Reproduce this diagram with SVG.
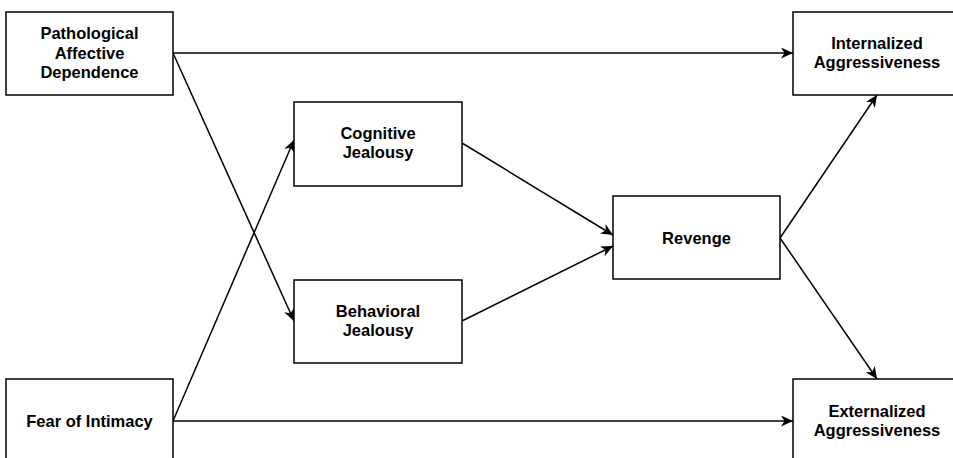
<svg xmlns="http://www.w3.org/2000/svg" width="953" height="458" viewBox="0 0 953 458">
<style>
.box{fill:#fff;stroke:#000;stroke-width:1.5}
.lbl{font-family:"Liberation Sans",Arial,sans-serif;font-weight:bold;font-size:16.5px;fill:#000;text-anchor:middle}
.edge{fill:none;stroke:#000;stroke-width:1.5}
</style>
<defs>
<marker id="arr" markerUnits="userSpaceOnUse" markerWidth="13" markerHeight="11" refX="12" refY="5.5" orient="auto" viewBox="0 0 13 11">
<path d="M0,0 L12,5.5 L0,11 L3.5,5.5 Z" fill="#000"/>
</marker>
</defs>
<rect width="953" height="458" fill="#fff"/>
<g id="connectors">
<line class="edge" x1="173" y1="53" x2="793" y2="53" marker-end="url(#arr)"/>
<line class="edge" x1="173" y1="53" x2="294" y2="321" marker-end="url(#arr)"/>
<line class="edge" x1="173" y1="421" x2="294" y2="140" marker-end="url(#arr)"/>
<line class="edge" x1="173" y1="421" x2="793" y2="421" marker-end="url(#arr)"/>
<line class="edge" x1="462" y1="143" x2="613" y2="235" marker-end="url(#arr)"/>
<line class="edge" x1="462" y1="321" x2="613" y2="246" marker-end="url(#arr)"/>
<line class="edge" x1="780" y1="238" x2="877" y2="95" marker-end="url(#arr)"/>
<line class="edge" x1="780" y1="238" x2="877" y2="379" marker-end="url(#arr)"/>
</g>
<g id="pad">
<rect class="box" x="6" y="12" width="167" height="83"/>
<text class="lbl" x="89.5" y="39">Pathological</text>
<text class="lbl" x="89.5" y="58.5">Affective</text>
<text class="lbl" x="89.5" y="78">Dependence</text>
</g>
<g id="fear">
<rect class="box" x="6" y="379" width="167" height="83"/>
<text class="lbl" x="89.5" y="427">Fear of Intimacy</text>
</g>
<g id="cognitive">
<rect class="box" x="294" y="102" width="168" height="84"/>
<text class="lbl" x="378" y="139">Cognitive</text>
<text class="lbl" x="378" y="158">Jealousy</text>
</g>
<g id="behavioral">
<rect class="box" x="294" y="280" width="168" height="83"/>
<text class="lbl" x="378" y="317">Behavioral</text>
<text class="lbl" x="378" y="336">Jealousy</text>
</g>
<g id="revenge">
<rect class="box" x="613" y="196" width="167" height="83"/>
<text class="lbl" x="696.5" y="244">Revenge</text>
</g>
<g id="internalized">
<rect class="box" x="793" y="12" width="168" height="83"/>
<text class="lbl" x="877" y="49">Internalized</text>
<text class="lbl" x="877" y="68">Aggressiveness</text>
</g>
<g id="externalized">
<rect class="box" x="793" y="379" width="168" height="83"/>
<text class="lbl" x="877" y="417">Externalized</text>
<text class="lbl" x="877" y="436">Aggressiveness</text>
</g>
</svg>
